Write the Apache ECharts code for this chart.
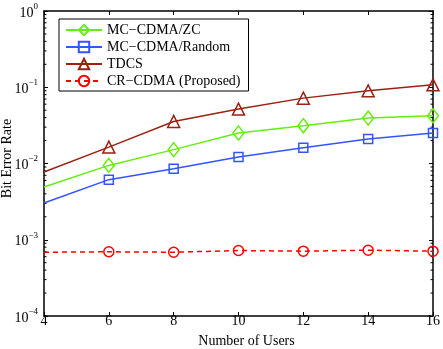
<!DOCTYPE html>
<html lang="en">
  <head>
    <meta charset="UTF-8" />
    <title>Bit Error Rate vs Number of Users</title>
    <script src="https://cdn.jsdelivr.net/npm/echarts@6/dist/echarts.min.js"></script>
    <style>
      html, body { margin: 0; padding: 0; background: #fff; }
    </style>
  </head>
  <body>
    <div id="main" style="width: 443px; height: 349px"></div>
    <script>
      // x 轴: 用户数
      var users = [4, 6, 8, 10, 12, 14, 16];
      // 各方案的误码率
      var berZC = [0.00492, 0.00944, 0.0152, 0.0251, 0.0313, 0.0394, 0.0422];
      var berRandom = [0.00304, 0.00614, 0.00855, 0.0122, 0.0161, 0.0209, 0.0251];
      var berTDCS = [0.00774, 0.0164, 0.0356, 0.0517, 0.072, 0.0897, 0.1075];
      var berCR = [0.000686, 0.000695, 0.000686, 0.000722, 0.000708, 0.000729, 0.000708];
      var seriesNames = ['MC\u2212CDMA/ZC', 'MC\u2212CDMA/Random', 'TDCS', 'CR\u2212CDMA (Proposed)'];
      // 对数轴的次刻度值
      var minorTickValues = [];
      [-4, -3, -2, -1].forEach(function (k) {
        for (var m = 2; m <= 9; m++) minorTickValues.push(m * Math.pow(10, k));
      });

      var font = 'Liberation Serif';
      var mCharts = echarts.init(document.getElementById('main'));

      // 第一个点不画标记
      function toData(arr) {
        return users.map(function (u, i) {
          return i === 0 ? { value: [u, arr[i]], symbol: 'none' } : [u, arr[i]];
        });
      }

      function lineSeries(name, arr, color, symbol, size, dashed) {
        return {
          name: name,
          type: 'line',
          data: toData(arr),
          symbol: symbol,
          symbolSize: size,
          color: color,
          lineStyle: { color: color, width: 1.5, type: dashed ? [5, 4] : 'solid' },
          itemStyle: { color: 'rgba(255,255,255,0)', borderColor: color, borderWidth: 1.5 },
          emphasis: { disabled: true },
          animation: false,
          z: 3,
        };
      }

      var axisLine = { show: true, lineStyle: { color: '#000', width: 1.5 } };
      var tickIn = { show: true, inside: true, length: 4, lineStyle: { color: '#000' } };

      var option = {
        backgroundColor: '#fff',
        animation: false,
        grid: { left: 44, right: 10, top: 11, bottom: 33, outerBoundsMode: 'none', containLabel: false },
        legend: {
          data: seriesNames,
          orient: 'vertical',
          left: 59,
          top: 19,
          padding: [4, 8, 3, 6],
          itemGap: 3,
          itemWidth: 36,
          itemHeight: 13,
          backgroundColor: '#fff',
          borderColor: '#000',
          borderWidth: 1,
          borderRadius: 0,
          textStyle: { fontFamily: font, fontSize: 14, color: '#000', lineHeight: 13 },
        },
        xAxis: [
          {
            type: 'value',
            min: 4,
            max: 16,
            interval: 2,
            name: 'Number of Users',
            nameLocation: 'middle',
            nameGap: 18,
            nameMoveOverlap: false,
            nameTextStyle: { fontFamily: font, fontSize: 14, color: '#000', padding: [0, 0, 0, 16] },
            axisLine: axisLine,
            axisTick: tickIn,
            splitLine: { show: false },
            axisLabel: { fontFamily: font, fontSize: 14, color: '#000', margin: -1.5 },
          },
          {
            type: 'value',
            position: 'top',
            min: 4,
            max: 16,
            interval: 2,
            axisLine: axisLine,
            axisTick: tickIn,
            splitLine: { show: false },
            axisLabel: { show: false },
          },
        ],
        yAxis: [
          {
            type: 'log',
            logBase: 10,
            min: 1e-4,
            max: 1,
            name: 'Bit Error Rate',
            nameLocation: 'middle',
            nameGap: 30,
            nameMoveOverlap: false,
            nameTextStyle: { fontFamily: font, fontSize: 14, color: '#000', padding: [0, 0, 0, 10] },
            axisLine: axisLine,
            axisTick: tickIn,
            splitLine: { show: false },
            axisLabel: {
              margin: 6,
              formatter: function (val) {
                var e = Math.round(Math.log10(val));
                return '{b|10}{s|' + (e < 0 ? '\u2212' + -e : e) + '}';
              },
              rich: {
                b: { fontFamily: font, fontSize: 14, color: '#000', lineHeight: 18, verticalAlign: 'bottom' },
                s: { fontFamily: font, fontSize: 9, color: '#000', verticalAlign: 'top', lineHeight: 18 },
              },
            },
          },
          {
            type: 'log',
            logBase: 10,
            min: 1e-4,
            max: 1,
            position: 'right',
            axisLine: axisLine,
            axisTick: tickIn,
            splitLine: { show: false },
            axisLabel: { show: false },
          },
        ],
        series: [
          lineSeries(seriesNames[0], berZC, '#66ee11', 'diamond', [11, 14], false),
          lineSeries(seriesNames[1], berRandom, '#3355ff', 'rect', 9, false),
          lineSeries(seriesNames[2], berTDCS, '#992211', 'triangle', 12, false),
          lineSeries(seriesNames[3], berCR, '#ff0000', 'circle', 10, true),
          {
            // 左右两侧的对数次刻度
            type: 'custom',
            silent: true,
            animation: false,
            data: minorTickValues.map(function (v) { return [4, v]; }),
            renderItem: function (params, api) {
              var v = api.value(1);
              var l = api.coord([4, v]);
              var r = api.coord([16, v]);
              var st = { stroke: '#000', lineWidth: 1 };
              return {
                type: 'group',
                children: [
                  { type: 'line', shape: { x1: l[0], y1: l[1], x2: l[0] + 2.5, y2: l[1] }, style: st },
                  { type: 'line', shape: { x1: r[0] - 2.5, y1: r[1], x2: r[0], y2: r[1] }, style: st },
                ],
              };
            },
            z: 1,
          },
        ],
      };

      mCharts.setOption(option);
    </script>
  </body>
</html>
